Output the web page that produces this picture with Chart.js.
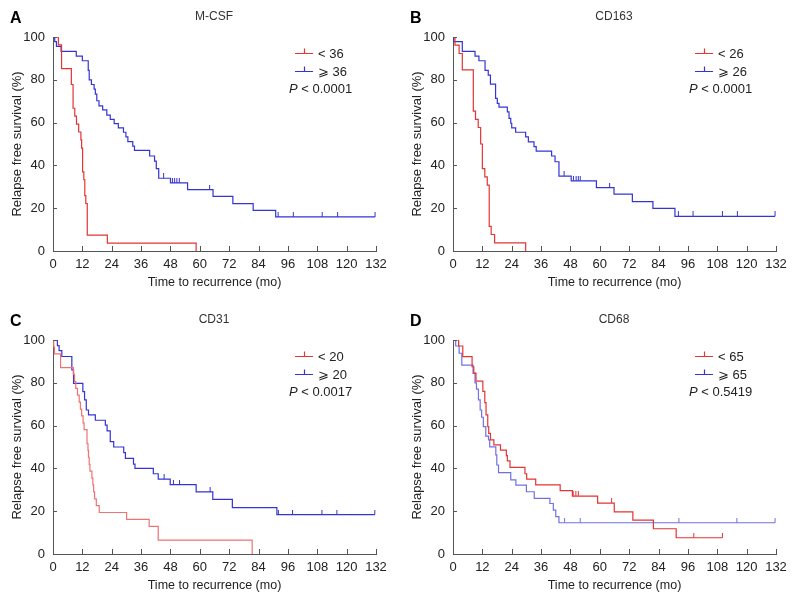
<!DOCTYPE html>
<html>
<head>
<meta charset="utf-8">
<script src="https://cdn.jsdelivr.net/npm/chart.js@4/dist/chart.umd.min.js"></script>
<style>
html, body { margin: 0; padding: 0; background: #fff; overflow: hidden; }
.panel { position: absolute; width: 400px; height: 297px; }
</style>
</head>
<body>
<div class="panel" style="left:0;top:0"><canvas id="chartA" width="400" height="297"></canvas></div>
<div class="panel" style="left:400px;top:0"><canvas id="chartB" width="400" height="297"></canvas></div>
<div class="panel" style="left:0;top:303px"><canvas id="chartC" width="400" height="297"></canvas></div>
<div class="panel" style="left:400px;top:303px"><canvas id="chartD" width="400" height="297"></canvas></div>
<script>
// panel texts
var panelLetters = ['A', 'B', 'C', 'D'];
var panelTitles = ['M-CSF', 'CD163', 'CD31', 'CD68'];
var lowLabels = ['< 36', '< 26', '< 20', '< 65'];
var highLabels = ['\u2A7E 36', '\u2A7E 26', '\u2A7E 20', '\u2A7E 65'];
var pValues = ['< 0.0001', '< 0.0001', '< 0.0017', '< 0.5419'];

// axes
var xMax = 132, xStep = 12;
var yMax = 100, yStep = 20;

// A: M-CSF
var mcsfLowTime = [0, 2.2, 3.5, 7.5, 8.2, 8.9, 9.6, 10.5, 11.4, 11.7, 12.1, 12.6, 13.0, 13.4, 14.0, 22.2, 58.5];
var mcsfLowSurv = [100, 96.3, 85.2, 77.8, 66.7, 63.0, 59.3, 55.6, 51.9, 48.1, 37.0, 33.3, 25.9, 22.2, 7.4, 3.7, 0];
var mcsfHighTime = [0, 0.7, 1.4, 3.3, 9.5, 12.0, 14.4, 14.8, 15.7, 16.8, 17.3, 17.9, 18.8, 20.3, 22.0, 23.4, 25.0, 26.7, 28.8, 29.8, 30.6, 32.6, 33.3, 39.5, 41.5, 42.2, 43.2, 48.0, 55.0, 65.4, 73.5, 81.8, 91.0, 131.6];
var mcsfHighSurv = [100, 97.8, 95.6, 93.3, 91.1, 88.9, 84.4, 80.0, 77.8, 75.6, 73.3, 70.2, 67.8, 65.9, 63.5, 61.5, 59.5, 57.5, 55.5, 53.3, 51.1, 49.0, 47.0, 44.4, 42.0, 38.5, 34.0, 31.8, 28.7, 25.5, 22.1, 19.0, 15.9, 15.9];
var mcsfHighCensTime = [45.2, 48.8, 49.7, 50.6, 51.6, 64.0, 92.0, 98.2, 110.0, 116.3, 131.6];
var mcsfHighCensSurv = [34.0, 31.8, 31.8, 31.8, 31.8, 28.7, 15.9, 15.9, 15.9, 15.9, 15.9];

// B: CD163
var cd163LowTime = [0, 0.8, 2.5, 3.8, 8.3, 9.2, 10.3, 11.3, 12.0, 13.0, 14.0, 14.8, 15.6, 17.0, 29.7];
var cd163LowSurv = [100, 96.2, 92.3, 84.6, 65.4, 61.5, 57.7, 50.0, 38.5, 34.6, 30.8, 11.5, 7.7, 3.8, 0];
var cd163HighTime = [0, 0.3, 3.8, 9.0, 10.6, 13.1, 14.4, 15.3, 17.4, 18.1, 18.8, 22.2, 22.9, 23.6, 24.0, 25.6, 29.7, 30.8, 33.1, 34.0, 40.3, 41.7, 43.3, 48.3, 58.6, 65.8, 73.3, 81.7, 90.7, 131.6];
var cd163HighSurv = [100, 97.8, 93.3, 91.1, 88.9, 84.4, 82.2, 78.0, 71.3, 69.0, 67.2, 65.0, 62.0, 59.7, 57.5, 55.5, 53.3, 51.0, 48.8, 46.7, 44.4, 41.7, 35.0, 32.8, 29.6, 26.6, 23.1, 19.9, 16.2, 16.2];
var cd163HighCensTime = [45.4, 49.2, 50.3, 51.2, 52.0, 64.0, 92.1, 98.1, 110.1, 116.2, 131.6];
var cd163HighCensSurv = [35.0, 32.8, 32.8, 32.8, 32.8, 29.6, 16.2, 16.2, 16.2, 16.2, 16.2];

// C: CD31
var cd31LowTime = [0, 0.3, 0.6, 3.1, 8.3, 8.8, 9.3, 10.0, 10.7, 11.2, 11.7, 12.3, 12.7, 13.9, 14.3, 14.5, 14.8, 15.1, 15.9, 16.3, 16.6, 17.0, 17.7, 18.9, 30.1, 39.3, 43.0, 81.4];
var cd31LowSurv = [100, 96.8, 93.5, 87.1, 83.9, 80.6, 77.4, 74.2, 71.0, 67.7, 64.5, 61.3, 58.1, 51.6, 48.4, 45.2, 41.9, 38.7, 35.5, 32.3, 29.0, 25.8, 22.6, 19.4, 16.2, 12.9, 6.5, 0];
var cd31HighTime = [0, 1.8, 2.5, 3.6, 7.7, 8.4, 12.2, 12.9, 13.6, 14.5, 17.3, 21.4, 22.1, 23.4, 24.8, 28.9, 29.6, 32.9, 33.5, 41.0, 43.0, 47.9, 58.5, 65.3, 73.3, 91.5, 131.5];
var cd31HighSurv = [100, 97.4, 95.0, 92.3, 86.0, 79.7, 75.9, 72.0, 67.3, 65.0, 62.5, 60.2, 57.5, 52.5, 50.0, 47.4, 44.7, 42.0, 40.0, 37.5, 35.0, 32.4, 29.0, 25.5, 21.7, 18.4, 18.4];
var cd31HighCensTime = [45.4, 49.2, 51.7, 64.2, 92.1, 97.9, 109.9, 116.0, 131.5];
var cd31HighCensSurv = [35.0, 32.4, 32.4, 29.0, 18.4, 18.4, 18.4, 18.4, 18.4];

// D: CD68
var cd68LowTime = [0, 2.3, 4.0, 7.8, 8.5, 9.4, 12.2, 13.0, 13.5, 14.2, 14.6, 15.3, 16.7, 19.4, 21.8, 22.2, 23.3, 29.4, 30.1, 33.8, 43.8, 48.8, 59.1, 65.9, 73.5, 81.9, 91.2, 110.1];
var cd68LowSurv = [100, 97.2, 92.2, 87.5, 84.5, 80.8, 76.0, 70.7, 65.0, 59.5, 56.4, 53.3, 51.0, 48.5, 46.0, 43.5, 40.5, 37.5, 35.0, 32.3, 29.6, 27.0, 23.8, 19.7, 15.8, 11.8, 7.6, 7.6];
var cd68LowCensTime = [1.2, 49.1, 50.2, 51.2, 64.8, 98.4, 110.1];
var cd68LowCensSurv = [100, 27.0, 27.0, 27.0, 23.8, 7.6, 7.6];
var cd68HighTime = [0, 1.1, 2.5, 3.6, 8.2, 9.0, 9.6, 10.4, 11.1, 11.7, 12.4, 13.4, 14.5, 15.0, 17.5, 17.9, 18.6, 23.6, 25.7, 30.0, 33.2, 39.6, 41.0, 42.0, 43.3, 131.6];
var cd68HighSurv = [100, 97.2, 93.8, 88.3, 84.4, 80.0, 77.0, 72.0, 67.3, 63.9, 59.5, 55.1, 53.3, 50.1, 46.3, 41.6, 38.0, 34.6, 32.2, 29.1, 26.0, 23.6, 20.5, 17.5, 14.6, 14.6];
var cd68HighCensTime = [0.5, 45.6, 52.0, 92.3, 116.0, 131.6];
var cd68HighCensSurv = [100, 14.6, 14.6, 14.6, 14.6, 14.6];

var RED = 'rgb(228,52,52)';
var PINK = 'rgb(240,115,115)';
var BLUE = 'rgb(52,52,212)';
var LIGHTBLUE = 'rgb(112,112,228)';
var FONT = '"Liberation Sans", Arial, sans-serif';

function pts(times, surv) {
	return times.map(function(t, i) { return {x: t, y: surv[i]}; });
}

// small vertical tick above the point, used for censored cases
function censorMark(color) {
	var c = document.createElement('canvas');
	c.width = 3; c.height = 10;
	var g = c.getContext('2d');
	g.fillStyle = color;
	g.fillRect(1, 0, 1, 5);
	return c;
}

function curve(times, surv, color) {
	return {
		data: pts(times, surv),
		borderColor: color,
		borderWidth: 1.2,
		stepped: 'before',
		pointRadius: 0,
		fill: false
	};
}

function censors(times, surv, color) {
	return {
		data: pts(times, surv),
		showLine: false,
		pointStyle: censorMark(color),
		pointRadius: 5,
		borderColor: color,
		backgroundColor: color
	};
}

var panelDecor = {
	id: 'panelDecor',
	afterDraw: function(chart, args, opts) {
		var ctx = chart.ctx;
		var xs = chart.scales.x, ys = chart.scales.y;
		ctx.save();
		// inward tick marks
		ctx.strokeStyle = '#555';
		ctx.lineWidth = 1;
		xs.ticks.forEach(function(t) {
			var px = Math.round(xs.getPixelForValue(t.value)) + 0.5;
			ctx.beginPath();
			ctx.moveTo(px, xs.top);
			ctx.lineTo(px, xs.top - 5);
			ctx.stroke();
		});
		ys.ticks.forEach(function(t) {
			var py = Math.round(ys.getPixelForValue(t.value)) + 0.5;
			ctx.beginPath();
			ctx.moveTo(ys.right, py);
			ctx.lineTo(ys.right + 4, py);
			ctx.stroke();
		});
		// letter and title
		ctx.fillStyle = '#000';
		ctx.font = 'bold 16px ' + FONT;
		ctx.textAlign = 'left';
		ctx.textBaseline = 'alphabetic';
		ctx.fillText(opts.letter, 10, 23);
		ctx.fillStyle = '#333';
		ctx.font = '12px ' + FONT;
		ctx.textAlign = 'center';
		ctx.fillText(opts.title, 214, 20);
		// legend
		ctx.textAlign = 'left';
		ctx.font = '13px ' + FONT;
		[[53.5, opts.lowColor, opts.low], [71.5, opts.highColor, opts.high]].forEach(function(r) {
			ctx.strokeStyle = r[1];
			ctx.lineWidth = 1.2;
			ctx.beginPath();
			ctx.moveTo(295, r[0]);
			ctx.lineTo(313, r[0]);
			ctx.moveTo(304.5, r[0]);
			ctx.lineTo(304.5, r[0] - 5);
			ctx.stroke();
			ctx.fillStyle = '#222';
			ctx.fillText(r[2], 318, r[0] + 4.5);
		});
		ctx.font = 'italic 13px ' + FONT;
		ctx.fillText('P', 289, 93);
		var w = ctx.measureText('P').width;
		ctx.font = '13px ' + FONT;
		ctx.fillText(' ' + opts.p, 289 + w, 93);
		ctx.restore();
	}
};

function makeChart(id, idx, datasets, lowColor, highColor) {
	var ctx = document.getElementById(id).getContext('2d');
	return new Chart(ctx, {
		type: 'line',
		data: { datasets: datasets },
		options: {
			responsive: false,
			animation: false,
			layout: { padding: { top: 37, right: 24, left: 0, bottom: 0 } },
			plugins: {
				legend: { display: false },
				tooltip: { enabled: false },
				panelDecor: {
					letter: panelLetters[idx],
					title: panelTitles[idx],
					low: lowLabels[idx],
					high: highLabels[idx],
					p: pValues[idx],
					lowColor: lowColor,
					highColor: highColor
				}
			},
			scales: {
				x: {
					type: 'linear',
					min: 0,
					max: xMax,
					afterFit: function(s) { s.height = 46; },
					ticks: { stepSize: xStep, padding: 6, color: '#222', font: { family: FONT, size: 13 } },
					grid: { drawOnChartArea: false, drawTicks: false, tickLength: 0 },
					border: { color: '#555', width: 1 },
					title: { display: true, text: 'Time to recurrence (mo)', color: '#222', font: { family: FONT, size: 12.5 }, padding: { top: 0, bottom: 7 } }
				},
				y: {
					min: 0,
					max: yMax,
					afterFit: function(s) { s.width = 53; },
					ticks: { stepSize: yStep, padding: 8, color: '#222', font: { family: FONT, size: 13 } },
					grid: { drawOnChartArea: false, drawTicks: false, tickLength: 0 },
					border: { color: '#555', width: 1 },
					title: { display: true, text: 'Relapse free survival (%)', color: '#222', font: { family: FONT, size: 13 }, padding: { top: 10, bottom: 0 } }
				}
			}
		},
		plugins: [panelDecor]
	});
}

makeChart('chartA', 0, [
	curve(mcsfLowTime, mcsfLowSurv, RED),
	curve(mcsfHighTime, mcsfHighSurv, BLUE),
	censors(mcsfHighCensTime, mcsfHighCensSurv, BLUE)
], RED, BLUE);

makeChart('chartB', 1, [
	curve(cd163LowTime, cd163LowSurv, RED),
	curve(cd163HighTime, cd163HighSurv, BLUE),
	censors(cd163HighCensTime, cd163HighCensSurv, BLUE)
], RED, BLUE);

makeChart('chartC', 2, [
	curve(cd31LowTime, cd31LowSurv, PINK),
	curve(cd31HighTime, cd31HighSurv, BLUE),
	censors(cd31HighCensTime, cd31HighCensSurv, BLUE)
], RED, BLUE);

makeChart('chartD', 3, [
	curve(cd68LowTime, cd68LowSurv, RED),
	curve(cd68HighTime, cd68HighSurv, LIGHTBLUE),
	censors(cd68LowCensTime, cd68LowCensSurv, RED),
	censors(cd68HighCensTime, cd68HighCensSurv, LIGHTBLUE)
], RED, BLUE);
</script>
</body>
</html>
